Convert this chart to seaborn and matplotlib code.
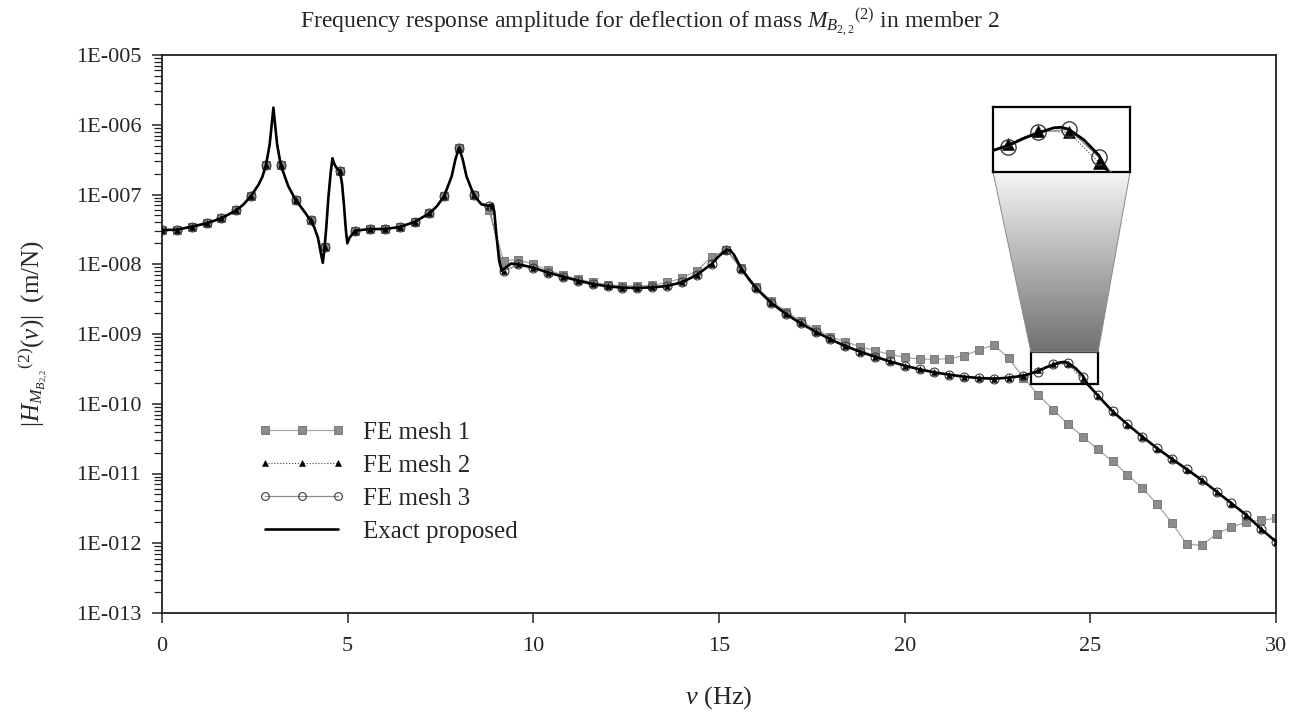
import numpy as np
import matplotlib
matplotlib.use("Agg")
import matplotlib.pyplot as plt
import seaborn as sns
from matplotlib.lines import Line2D
from matplotlib.patches import Rectangle, Polygon
from matplotlib.ticker import LogLocator, NullFormatter, NullLocator

# ---------------- data (log10 of |H| in m/N) ----------------
freq_fe = [0.0, 0.4, 0.8, 1.2, 1.6, 2.0, 2.4, 2.8, 3.2, 3.6,
           4.0, 4.4, 4.8, 5.2, 5.6, 6.0, 6.4, 6.8, 7.2, 7.6,
           8.0, 8.4, 8.8, 9.2, 9.6, 10.0, 10.4, 10.8, 11.2, 11.6,
           12.0, 12.4, 12.8, 13.2, 13.6, 14.0, 14.4, 14.8, 15.2, 15.6,
           16.0, 16.4, 16.8, 17.2, 17.6, 18.0, 18.4, 18.8, 19.2, 19.6,
           20.0, 20.4, 20.8, 21.2, 21.6, 22.0, 22.4, 22.8, 23.2, 23.6,
           24.0, 24.4, 24.8, 25.2, 25.6, 26.0, 26.4, 26.8, 27.2, 27.6,
           28.0, 28.4, 28.8, 29.2, 29.6, 30.0]

mesh1_log = [-7.509, -7.505, -7.461, -7.413, -7.341, -7.227, -7.017, -6.581, -6.581, -7.079,
             -7.370, -7.750, -6.663, -7.519, -7.495, -7.495, -7.466, -7.394, -7.270, -7.022,
             -6.329, -7.011, -7.220, -7.949, -7.935, -8.001, -8.083, -8.154, -8.216, -8.259,
             -8.293, -8.312, -8.312, -8.302, -8.259, -8.202, -8.092, -7.896, -7.790, -8.050,
             -8.320, -8.520, -8.680, -8.810, -8.934, -9.038, -9.110, -9.182, -9.239, -9.291,
             -9.334, -9.358, -9.363, -9.354, -9.311, -9.229, -9.155, -9.346, -9.630, -9.872,
             -10.090, -10.290, -10.472, -10.653, -10.825, -11.017, -11.208, -11.442, -11.710, -12.015,
             -12.030, -11.867, -11.767, -11.700, -11.667, -11.643]

mesh2_log = [-7.509, -7.505, -7.461, -7.413, -7.341, -7.227, -7.017, -6.581, -6.581, -7.079,
             -7.370, -7.753, -6.663, -7.519, -7.495, -7.495, -7.466, -7.394, -7.270, -7.022,
             -6.329, -7.011, -7.160, -8.097, -8.001, -8.049, -8.120, -8.178, -8.235, -8.283,
             -8.316, -8.336, -8.340, -8.331, -8.312, -8.259, -8.154, -7.996, -7.796, -8.063,
             -8.345, -8.551, -8.713, -8.847, -8.967, -9.076, -9.172, -9.254, -9.325, -9.392,
             -9.454, -9.506, -9.550, -9.583, -9.612, -9.631, -9.641, -9.626, -9.598, -9.520,
             -9.425, -9.437, -9.651, -9.895, -10.120, -10.300, -10.477, -10.643, -10.796, -10.944,
             -11.097, -11.264, -11.431, -11.600, -11.800, -11.980]

mesh3_log = [-7.509, -7.505, -7.461, -7.413, -7.341, -7.227, -7.017, -6.581, -6.581, -7.079,
             -7.370, -7.753, -6.663, -7.519, -7.495, -7.495, -7.466, -7.394, -7.270, -7.022,
             -6.329, -7.011, -7.160, -8.097, -8.001, -8.049, -8.120, -8.178, -8.235, -8.283,
             -8.316, -8.336, -8.340, -8.331, -8.312, -8.259, -8.154, -7.996, -7.796, -8.063,
             -8.345, -8.551, -8.713, -8.847, -8.967, -9.076, -9.172, -9.254, -9.325, -9.392,
             -9.454, -9.506, -9.550, -9.583, -9.612, -9.631, -9.641, -9.626, -9.598, -9.538,
             -9.437, -9.415, -9.613, -9.880, -10.110, -10.295, -10.472, -10.639, -10.792, -10.940,
             -11.093, -11.260, -11.427, -11.595, -11.796, -11.978]

exact_freq = [0.0, 0.4, 0.8, 1.2, 1.6, 2.0, 2.2, 2.4, 2.6, 2.7,
              2.8, 2.9, 2.95, 3.0, 3.05, 3.1, 3.2, 3.4, 3.6, 3.8,
              4.0, 4.1, 4.2, 4.27, 4.33, 4.37, 4.42, 4.48, 4.54, 4.59,
              4.63, 4.7, 4.79, 4.85, 4.9, 4.95, 4.99, 5.05, 5.2, 5.6,
              6.0, 6.4, 6.8, 7.2, 7.4, 7.6, 7.8, 7.9, 8.0, 8.1,
              8.2, 8.4, 8.6, 8.8, 8.9, 8.95, 9.0, 9.08, 9.15, 9.25,
              9.4, 9.6, 10.0, 10.4, 10.8, 11.2, 11.6, 12.0, 12.4, 12.8,
              13.2, 13.6, 14.0, 14.4, 14.8, 15.0, 15.2, 15.3, 15.4, 15.6,
              15.8, 16.0, 16.4, 16.8, 17.2, 17.6, 18.0, 18.4, 18.8, 19.2,
              19.6, 20.0, 20.4, 20.8, 21.2, 21.6, 22.0, 22.4, 22.8, 23.2,
              23.4, 23.6, 23.8, 24.0, 24.2, 24.3, 24.4, 24.6, 24.8, 24.92,
              25.2, 25.6, 26.0, 26.4, 26.8, 27.2, 27.6, 28.0, 28.4, 28.8,
              29.2, 29.6, 30.0]
exact_log = [-7.509, -7.505, -7.461, -7.413, -7.341, -7.227, -7.140, -7.017, -6.860, -6.750,
             -6.581, -6.280, -6.020, -5.755, -6.020, -6.280, -6.581, -6.880, -7.079, -7.220,
             -7.370, -7.470, -7.620, -7.820, -7.980, -7.800, -7.500, -7.050, -6.700, -6.480,
             -6.550, -6.620, -6.663, -6.850, -7.150, -7.500, -7.700, -7.620, -7.519, -7.495,
             -7.495, -7.466, -7.394, -7.270, -7.170, -7.022, -6.740, -6.500, -6.329, -6.500,
             -6.740, -7.011, -7.140, -7.160, -7.140, -7.250, -7.550, -7.950, -8.097, -8.050,
             -7.990, -8.001, -8.049, -8.120, -8.178, -8.235, -8.283, -8.316, -8.336, -8.340,
             -8.331, -8.312, -8.259, -8.154, -7.996, -7.880, -7.796, -7.800, -7.860, -8.063,
             -8.210, -8.345, -8.551, -8.713, -8.847, -8.967, -9.076, -9.172, -9.254, -9.325,
             -9.392, -9.454, -9.506, -9.550, -9.583, -9.612, -9.631, -9.641, -9.626, -9.598,
             -9.565, -9.530, -9.480, -9.440, -9.405, -9.401, -9.415, -9.490, -9.600, -9.717,
             -9.880, -10.110, -10.295, -10.472, -10.639, -10.792, -10.940, -11.093, -11.260, -11.427,
             -11.595, -11.796, -11.978]

# below this frequency all FE curves lie on the exact curve (their lines are hidden under it)
fe_merge_freq = 8.8

series_labels = ["FE mesh 1", "FE mesh 2", "FE mesh 3", "Exact proposed"]
x_ticks = [0, 5, 10, 15, 20, 25, 30]
y_tick_exponents = [-13, -12, -11, -10, -9, -8, -7, -6, -5]
zoom_x = (23.40, 25.21)          # region shown in the inset
zoom_logy = (-9.717, -9.258)
inset_x = (22.38, 26.07)         # where the inset sits (data coords of main axes)
inset_logy = (-6.677, -5.746)

title_text = r"Frequency response amplitude for deflection of mass $M_{B_{2,2}}{}^{(2)}$ in member 2"
ylabel_text = r"$|H_{M_{B_{2,2}}}{}^{(2)}(\nu)|$  (m/N)"
xlabel_text = r"$\nu$ (Hz)"

# ---------------- style ----------------
sns.set_style("ticks")
plt.rcParams["font.family"] = ["Liberation Serif", "DejaVu Serif"]
plt.rcParams["mathtext.fontset"] = "custom"
plt.rcParams["mathtext.rm"] = "Liberation Serif"
plt.rcParams["mathtext.it"] = "Liberation Serif:italic"
plt.rcParams["mathtext.bf"] = "Liberation Serif:bold"

fig = plt.figure(figsize=(13.01, 7.15), dpi=100)
fig.patch.set_facecolor("white")
ax = fig.add_axes([162 / 1301, 1 - 613 / 715, (1276 - 162) / 1301, (613 - 55) / 715])
ax.set_facecolor("white")

f_fe = np.array(freq_fe)
fx = np.array(exact_freq)
ex = 10.0 ** np.array(exact_log)
mesh_vals = [10.0 ** np.array(v) for v in (mesh1_log, mesh2_log, mesh3_log)]


def line_path(vals):
    """FE line: follows the exact curve below the merge frequency, FE points above."""
    lo = fx < fe_merge_freq
    hi = f_fe >= fe_merge_freq
    return np.concatenate([fx[lo], f_fe[hi]]), np.concatenate([ex[lo], vals[hi]])


line1 = dict(color="#a6a6a6", linewidth=0.9)
line2 = dict(color="#444444", linewidth=0.8, linestyle=":")
line3 = dict(color="#8a8a8a", linewidth=0.9)
mark1 = dict(marker="s", markersize=5.2, markerfacecolor="#8c8c8c",
             markeredgecolor="#6f6f6f", markeredgewidth=0.6)
mark2 = dict(marker="^", markersize=4.0, markerfacecolor="black",
             markeredgecolor="black", markeredgewidth=0.4)
mark3 = dict(marker="o", markersize=6.4, markerfacecolor="none",
             markeredgecolor="#3a3a3a", markeredgewidth=0.8)
style4 = dict(color="black", linewidth=1.9)

for i, (ls, ms) in enumerate([(line1, mark1), (line2, mark2), (line3, mark3)]):
    px, py = line_path(mesh_vals[i])
    sns.lineplot(x=px, y=py, ax=ax, estimator=None, sort=False, zorder=2 + i, **ls)
    sns.lineplot(x=f_fe, y=mesh_vals[i], ax=ax, estimator=None, sort=False,
                 zorder=2 + i, linestyle="none", color=ls["color"], **ms)
sns.lineplot(x=fx, y=ex, ax=ax, estimator=None, sort=False, zorder=5, **style4)

ax.set_yscale("log")
ax.set_xlim(0, 30)
ax.set_ylim(1e-13, 1e-5)
ax.set_xticks(x_ticks)
ax.set_xticklabels([str(t) for t in x_ticks])
ax.set_yticks([10.0 ** e for e in y_tick_exponents])
ax.set_yticklabels(["1E-%03d" % (-e) for e in y_tick_exponents])
ax.yaxis.set_minor_locator(LogLocator(base=10, subs=range(2, 10), numticks=50))
ax.yaxis.set_minor_formatter(NullFormatter())
ax.xaxis.set_minor_locator(NullLocator())
ax.tick_params(axis="y", which="major", direction="out", length=7, width=1.1,
               labelsize=16, color="#222222", pad=8, right=False)
ax.tick_params(axis="x", which="major", direction="out", length=7, width=1.1,
               labelsize=16, color="#222222", pad=10, top=False)
ax.tick_params(axis="y", which="minor", direction="out", length=5.5, width=0.9,
               color="#222222", right=False)
for sp in ax.spines.values():
    sp.set_visible(True)
    sp.set_linewidth(1.3)
    sp.set_color("#222222")
ax.grid(False)

ax.set_xlabel(xlabel_text, fontsize=19, va="center")
ax.xaxis.set_label_coords(0.5, -0.152)
ax.set_ylabel(ylabel_text, fontsize=18, va="center", ha="center")
ax.yaxis.set_label_coords(-0.116, 0.5)
fig.suptitle(title_text, x=0.5, y=0.969, va="center", fontsize=17)

# ---------------- legend ----------------
handles = [Line2D([], [], **line1, **mark1),
           Line2D([], [], **line2, **dict(mark2, markersize=5.0)),
           Line2D([], [], **line3, **dict(mark3, markersize=5.6)),
           Line2D([], [], **style4)]
leg = ax.legend(handles, series_labels, loc="upper left", bbox_to_anchor=(0.086, 0.343),
                frameon=False, fontsize=18, numpoints=3, handlelength=3.5,
                handletextpad=0.7, labelspacing=0.42, borderpad=0, borderaxespad=0)

# ---------------- zoom box, gradient funnel and inset ----------------
zy0, zy1 = 10.0 ** zoom_logy[0], 10.0 ** zoom_logy[1]
iy0, iy1 = 10.0 ** inset_logy[0], 10.0 ** inset_logy[1]
ax.add_patch(Rectangle((zoom_x[0], zy0), zoom_x[1] - zoom_x[0], zy1 - zy0,
                       fill=False, edgecolor="black", linewidth=1.6, zorder=6))

fig.canvas.draw()
to_ax = ax.transData + ax.transAxes.inverted()
p_bl = to_ax.transform((zoom_x[0], zy1))
p_br = to_ax.transform((zoom_x[1], zy1))
p_tl = to_ax.transform((inset_x[0], iy0))
p_tr = to_ax.transform((inset_x[1], iy0))

ov = fig.add_axes(ax.get_position(), facecolor="none")
ov.set_xlim(0, 1)
ov.set_ylim(0, 1)
ov.set_axis_off()
grad = np.linspace(0.96, 0.44, 256).reshape(-1, 1)
im = ov.imshow(grad, extent=[p_tl[0], p_tr[0], p_bl[1], p_tl[1]], origin="upper",
               aspect="auto", cmap="gray", vmin=0, vmax=1, zorder=1)
funnel = Polygon([p_bl, p_br, p_tr, p_tl], closed=True, transform=ov.transData,
                 facecolor="none", edgecolor="#8a8a8a", linewidth=0.7, zorder=2)
ov.add_patch(funnel)
im.set_clip_path(funnel)

ins = fig.add_axes([0, 0, 0.1, 0.1])
pos_lo = (ax.transData + fig.transFigure.inverted()).transform((inset_x[0], iy0))
pos_hi = (ax.transData + fig.transFigure.inverted()).transform((inset_x[1], iy1))
ins.set_position([pos_lo[0], pos_lo[1], pos_hi[0] - pos_lo[0], pos_hi[1] - pos_lo[1]])
ins.set_facecolor("white")
ins_s2 = dict(line2, **dict(mark2, markersize=8.5))
ins_s3 = dict(line3, **dict(mark3, markersize=11, markeredgewidth=1.0))
ins_s4 = dict(style4, linewidth=2.0)
sns.lineplot(x=f_fe, y=mesh_vals[1], ax=ins, estimator=None, sort=False, zorder=3, **ins_s2)
sns.lineplot(x=f_fe, y=mesh_vals[2], ax=ins, estimator=None, sort=False, zorder=4, **ins_s3)
sns.lineplot(x=fx, y=ex, ax=ins, estimator=None, sort=False, zorder=5, **ins_s4)
ins.set_yscale("log")
ins.set_xlim(*zoom_x)
ins.set_ylim(zy0, zy1)
ins.set_xticks([])
ins.set_yticks([])
ins.yaxis.set_minor_locator(NullLocator())
ins.xaxis.set_minor_locator(NullLocator())
ins.set_xlabel("")
ins.set_ylabel("")
for sp in ins.spines.values():
    sp.set_visible(True)
    sp.set_linewidth(1.6)
    sp.set_color("black")

fig.savefig("out.png", dpi=100, facecolor="white")
